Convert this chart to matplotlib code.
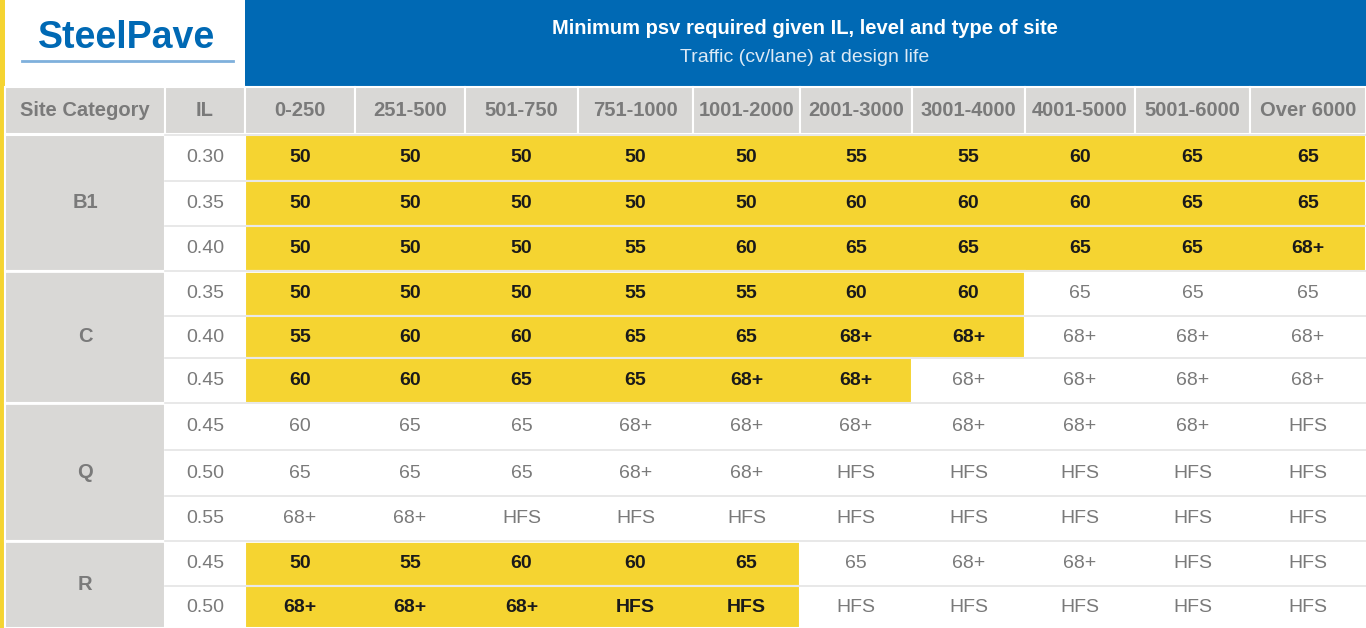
import matplotlib
matplotlib.use("Agg")
import matplotlib.pyplot as plt
from matplotlib.patches import Rectangle

# ---- data
traffic = ["0-250", "251-500", "501-750", "751-1000", "1001-2000",
           "2001-3000", "3001-4000", "4001-5000", "5001-6000", "Over 6000"]
categories = ["B1", "C", "Q", "R"]
il_values = [["0.30", "0.35", "0.40"], ["0.35", "0.40", "0.45"],
             ["0.45", "0.50", "0.55"], ["0.45", "0.50"]]
psv = [
    ["50", "50", "50", "50", "50", "55", "55", "60", "65", "65"],
    ["50", "50", "50", "50", "50", "60", "60", "60", "65", "65"],
    ["50", "50", "50", "55", "60", "65", "65", "65", "65", "68+"],
    ["50", "50", "50", "55", "55", "60", "60", "65", "65", "65"],
    ["55", "60", "60", "65", "65", "68+", "68+", "68+", "68+", "68+"],
    ["60", "60", "65", "65", "68+", "68+", "68+", "68+", "68+", "68+"],
    ["60", "65", "65", "68+", "68+", "68+", "68+", "68+", "68+", "HFS"],
    ["65", "65", "65", "68+", "68+", "HFS", "HFS", "HFS", "HFS", "HFS"],
    ["68+", "68+", "HFS", "HFS", "HFS", "HFS", "HFS", "HFS", "HFS", "HFS"],
    ["50", "55", "60", "60", "65", "65", "68+", "68+", "HFS", "HFS"],
    ["68+", "68+", "68+", "HFS", "HFS", "HFS", "HFS", "HFS", "HFS", "HFS"],
]
# number of leading highlighted cells per row
highlight = [10, 10, 10, 7, 7, 6, 0, 0, 0, 5, 5]

# ---- layout (pixels)
W, H = 1366, 628
col_x = [245, 355, 465, 578, 693, 800, 912, 1025, 1135, 1250, 1366]
row_y = [135, 181, 226, 271, 316, 358, 403, 450, 496, 541, 586, 628]
BLUE = "#0069b4"
YELLOW = "#f5d431"
GREY = "#d9d8d6"
TXT_GREY = "#7a7a7a"
LINE = "#e4e4e4"
font = "Liberation Sans"

fig = plt.figure(figsize=(W / 100, H / 100), dpi=100)
ax = fig.add_axes([0, 0, 1, 1])
ax.set_xlim(0, W)
ax.set_ylim(H, 0)
ax.axis("off")


def cell(x0, y0, x1, y1, fc, ec="white", lw=1.5):
    ax.add_patch(Rectangle((x0, y0), x1 - x0, y1 - y0, facecolor=fc,
                           edgecolor=ec, linewidth=lw))


# ---- left yellow strip and header
cell(0, 0, 5, H, YELLOW, ec="none", lw=0)
cell(5, 0, 245, 86, "white", ec="none", lw=0)
cell(245, 0, W, 86, BLUE, ec="none", lw=0)
ax.text(127, 38, "SteelPave", color=BLUE, fontsize=27, fontweight="bold",
        ha="center", va="center", family=font)
ax.plot([22, 233], [61, 61], color="#7fb0dc", linewidth=2)
ax.text(805, 29, "Minimum psv required given IL, level and type of site",
        color="white", fontsize=14.5, fontweight="bold", ha="center",
        va="center", family=font)
ax.text(805, 58, "Traffic (cv/lane) at design life", color="#dce9f5",
        fontsize=14, ha="center", va="center", family=font)

# ---- column header row
cell(5, 87, 165, 134, GREY)
cell(165, 87, 245, 134, GREY)
ax.text(85, 110, "Site Category", color=TXT_GREY, fontsize=14.5,
        fontweight="bold", ha="center", va="center", family=font)
ax.text(205, 110, "IL", color=TXT_GREY, fontsize=14.5, fontweight="bold",
        ha="center", va="center", family=font)
for j, t in enumerate(traffic):
    cell(col_x[j], 87, col_x[j + 1], 134, GREY)
    ax.text((col_x[j] + col_x[j + 1]) / 2, 110, t, color=TXT_GREY,
            fontsize=14.5, fontweight="bold", ha="center", va="center",
            family=font)

# ---- body
r = 0
for cat, ils in zip(categories, il_values):
    y_top = row_y[r]
    y_bot = row_y[r + len(ils)]
    cell(5, y_top, 165, y_bot, GREY)
    ax.text(85, (y_top + y_bot) / 2, cat, color=TXT_GREY, fontsize=14.5,
            fontweight="bold", ha="center", va="center", family=font)
    for il in ils:
        y0, y1 = row_y[r], row_y[r + 1]
        yc = (y0 + y1) / 2
        ax.plot([165, W], [y0, y0], color=LINE, linewidth=1.2)
        ax.text(205, yc, il, color=TXT_GREY, fontsize=14, ha="center",
                va="center", family=font)
        n = highlight[r]
        if n:
            cell(col_x[0], y0, col_x[n], y1, YELLOW, ec="white", lw=1.5)
        for j, v in enumerate(psv[r]):
            hl = j < n
            ax.text((col_x[j] + col_x[j + 1]) / 2, yc, v,
                    color="#1a1a1a" if hl else TXT_GREY, fontsize=14,
                    fontweight="bold" if hl else "normal", ha="center",
                    va="center", family=font)
        r += 1
    # white gap between category groups
    ax.plot([5, W], [y_bot, y_bot], color="white", linewidth=2)

fig.savefig("out.png", dpi=100)
